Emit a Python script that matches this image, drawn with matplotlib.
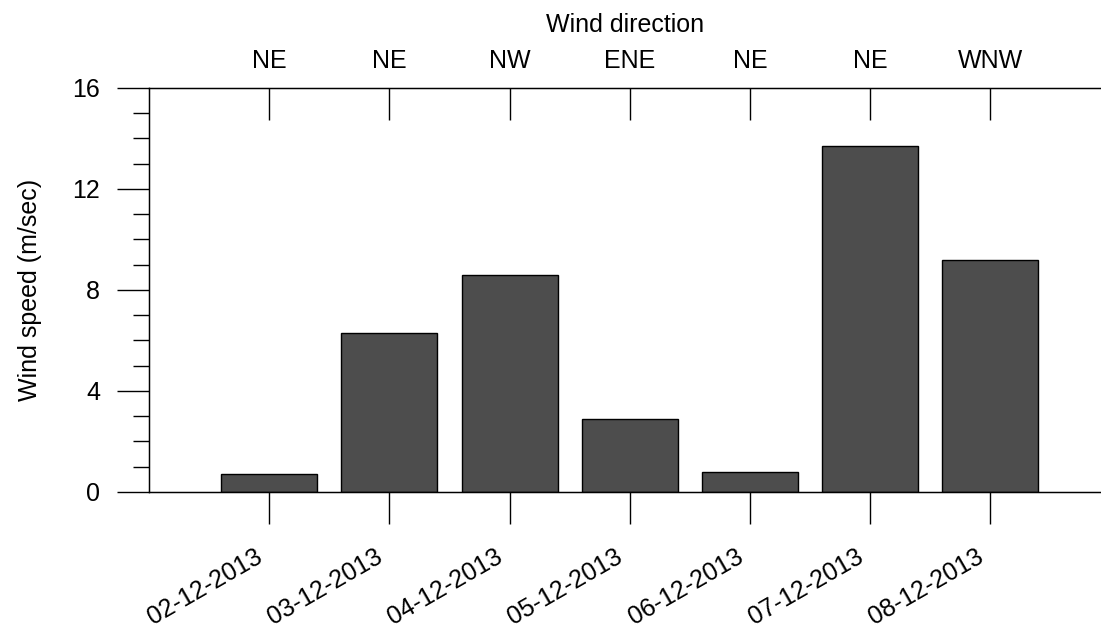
import matplotlib.pyplot as plt
import matplotlib.transforms as mtransforms
import numpy as np

plt.rcParams['font.family'] = ['Liberation Sans', 'DejaVu Sans']

dates = ['02-12-2013', '03-12-2013', '04-12-2013', '05-12-2013',
         '06-12-2013', '07-12-2013', '08-12-2013']
speed = [0.7, 6.3, 8.6, 2.9, 0.8, 13.7, 9.2]
direction = ['NE', 'NE', 'NW', 'ENE', 'NE', 'NE', 'WNW']

x = np.arange(1, len(dates) + 1)
fs = 18

fig = plt.figure(figsize=(11.01, 6.28), dpi=100)
ax = fig.add_axes([0.1353, 0.2166, 0.8647, 0.6433])

ax.bar(x, speed, width=0.8, color='#4d4d4d', edgecolor='black', linewidth=1.0)
ax.set_xlim(0, 7.92)
ax.set_ylim(0, 16)
ax.set_yticks([0, 4, 8, 12, 16])
ax.set_yticks(np.arange(0, 17, 1), minor=True)
ax.set_xticks(x)
ax.set_xticklabels(dates, rotation=30, ha='right', va='top', rotation_mode='anchor')
ax.tick_params(axis='y', which='major', length=23, width=1.0, labelsize=fs, pad=12)
ax.tick_params(axis='y', which='minor', length=11.5, width=1.0)
ax.tick_params(axis='x', which='major', length=23, width=1.0, labelsize=fs, pad=12)
ax.spines['right'].set_visible(False)
for s in ['left', 'top', 'bottom']:
    ax.spines[s].set_linewidth(1.0)
ax.set_ylabel('Wind speed (m/sec)', fontsize=fs, labelpad=22)

# nudge the rotated date labels left/down a bit
shift = mtransforms.ScaledTranslation(-0.15, -0.04, fig.dpi_scale_trans)
for lab in ax.get_xticklabels():
    lab.set_transform(lab.get_transform() + shift)

ax2 = ax.twiny()
ax2.set_xlim(ax.get_xlim())
ax2.set_xticks(x)
ax2.set_xticklabels(direction)
ax2.tick_params(axis='x', direction='in', length=23, width=1.0, labelsize=fs, pad=11)
ax2.spines['right'].set_visible(False)
ax2.set_xlabel('Wind direction', fontsize=fs, labelpad=12)

fig.savefig('out.png', dpi=100)
